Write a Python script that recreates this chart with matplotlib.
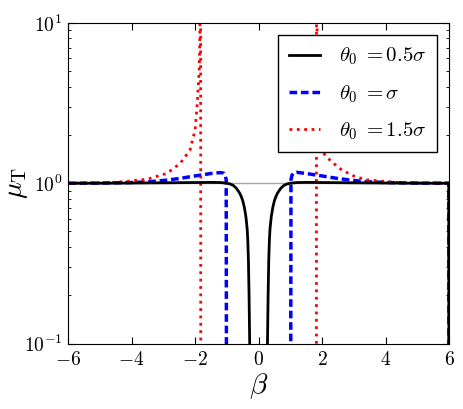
import numpy as np
import matplotlib
matplotlib.use('Agg')
import matplotlib.pyplot as plt

plt.rcParams['mathtext.fontset'] = 'cm'
plt.rcParams['font.family'] = ['DejaVu Serif']

# values
beta_k = [-6.0, -5.0, -4.0, -3.0, -2.0, -1.5, -1.2, -1.0, -0.9, -0.8, -0.7,
          -0.65, -0.6, -0.55, -0.5, -0.45, -0.4, -0.36, -0.34, -0.32, -0.30,
          -0.28, -0.26,
          0.26, 0.28, 0.30, 0.32, 0.34, 0.36, 0.4, 0.45, 0.5, 0.55, 0.6,
          0.65, 0.7, 0.8, 0.9, 1.0, 1.2, 1.5, 2.0, 3.0, 4.0, 5.0, 5.99, 6.0]
mu_k = [1.0, 1.0, 1.003, 1.006, 1.01, 1.012, 1.01, 1.0, 0.99, 0.97, 0.93,
        0.90, 0.87, 0.83, 0.78, 0.71, 0.62, 0.52, 0.44, 0.33, 0.2,
        0.1, 0.001,
        0.001, 0.1, 0.2, 0.33, 0.44, 0.52, 0.62, 0.71, 0.78, 0.83, 0.87,
        0.90, 0.93, 0.97, 0.99, 1.0, 1.01, 1.012, 1.01, 1.006, 1.003, 1.0,
        1.0, 0.001]

beta_b = [-6.0, -5.0, -4.0, -3.5, -3.0, -2.5, -2.0, -1.5, -1.2, -1.1, -1.05,
          -1.02, -1.0,
          1.0, 1.02, 1.05, 1.1, 1.2, 1.5, 2.0, 2.5, 3.0, 3.5, 4.0, 5.0,
          5.99, 6.0]
mu_b = [1.0, 1.002, 1.01, 1.02, 1.04, 1.07, 1.11, 1.15, 1.165, 1.155, 1.12,
        1.05, 0.001,
        0.001, 1.05, 1.12, 1.16, 1.17, 1.15, 1.11, 1.07, 1.04, 1.02, 1.01,
        1.002, 1.0, 0.001]

beta_r = [-6.0, -5.0, -4.5, -4.0, -3.5, -3.1, -2.89, -2.47, -2.16, -2.0,
          -1.93, -1.87, -1.85, -1.835, -1.825, -1.82,
          1.82, 1.825, 1.835, 1.86, 1.9, 1.96, 2.04, 2.3, 2.62, 3.04, 3.41,
          4.0, 4.46, 5.0, 5.99, 6.0]
mu_r = [1.0, 1.005, 1.015, 1.035, 1.06, 1.12, 1.15, 1.33, 1.61, 2.15,
        3.16, 5.1, 8.0, 20.0, 100.0, 0.001,
        0.001, 100.0, 12.0, 4.5, 2.8, 1.9, 1.54, 1.36, 1.21, 1.10, 1.05,
        1.025, 1.01, 1.005, 1.0, 0.001]

labels = [r'$\theta_0\;{=}0.5\sigma$', r'$\theta_0\;{=}\sigma$',
          r'$\theta_0\;{=}1.5\sigma$']
xticks = [-6, -4, -2, 0, 2, 4, 6]
yticks = [0.1, 1, 10]

fig = plt.figure(figsize=(4.63, 4.09), dpi=100)
ax = fig.add_axes([0.147, 0.16, 0.823, 0.784])

ax.axhline(1.0, color='0.65', lw=1, zorder=1)
ax.plot(beta_k, mu_k, color='k', lw=2, label=labels[0], zorder=3)
ax.plot(beta_b, mu_b, color='b', lw=2.5, ls='--', dashes=(2.2, 1.1),
        label=labels[1], zorder=2)
ax.plot(beta_r, mu_r, color='r', lw=2, ls=':', label=labels[2], zorder=2)

ax.set_yscale('log')
ax.set_xlim(-6, 6)
ax.set_ylim(0.1, 10)
ax.set_xticks(xticks)
ax.set_xticklabels(['$%d$' % t for t in xticks], fontsize=14)
ax.set_yticks(yticks)
ax.set_yticklabels([r'$10^{-1}$', r'$10^{0}$', r'$10^{1}$'], fontsize=14)
ax.tick_params(which='both', direction='in', top=True, right=True)
ax.tick_params(which='major', length=5, pad=5)
ax.tick_params(axis='y', which='major', pad=4)
ax.tick_params(which='minor', length=2.5)

ax.set_xlabel(r'$\beta$', fontsize=21, labelpad=2)
ax.set_ylabel(r'$\mu_{\rm T}$', fontsize=20)
ax.yaxis.set_label_coords(-0.1, 0.5)

leg = ax.legend(loc='upper right', fontsize=15, fancybox=False,
                framealpha=1, edgecolor='k', handlelength=1.5,
                handletextpad=0.9, labelspacing=0.75, borderaxespad=0.6,
                borderpad=0.5)
leg.get_frame().set_linewidth(1)

fig.savefig('out.png', dpi=100)
